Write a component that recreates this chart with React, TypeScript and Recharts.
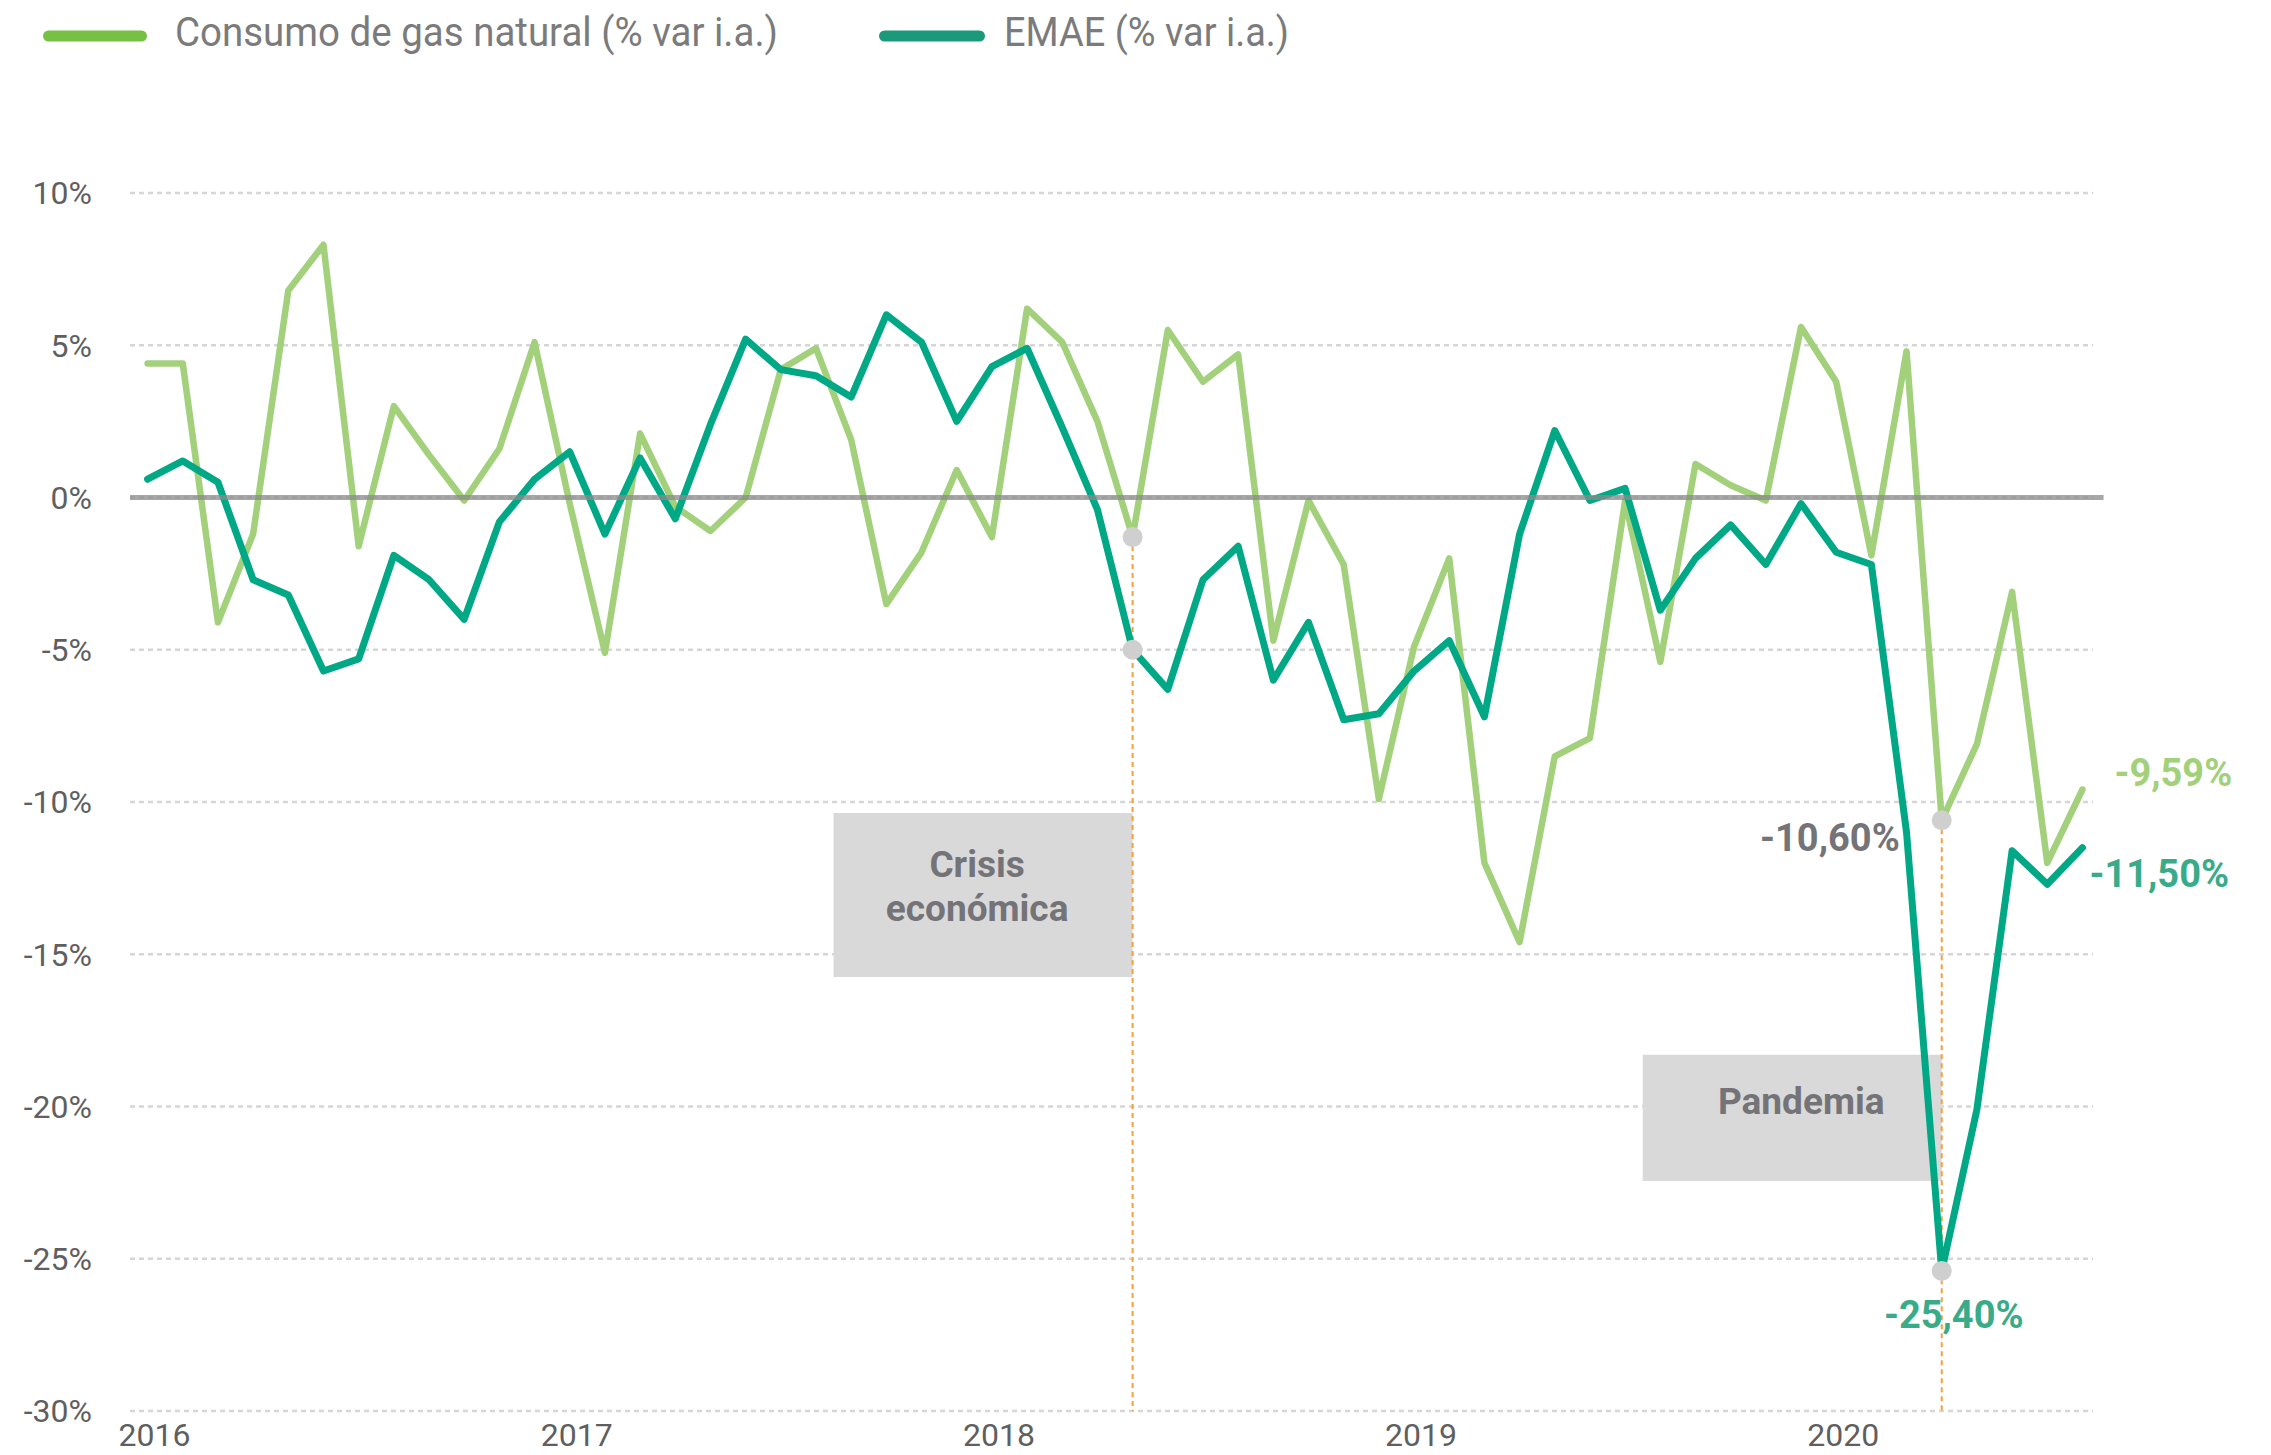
import {
  LineChart,
  Line,
  XAxis,
  YAxis,
  CartesianGrid,
  ReferenceLine,
  ReferenceDot,
  ReferenceArea,
  Legend,
} from 'recharts';

const FONT = 'Roboto, "Noto Sans", sans-serif';

// months Jan 2016 - Aug 2020
const months = [
  'ene-16', 'feb-16', 'mar-16', 'abr-16', 'may-16', 'jun-16', 'jul-16', 'ago-16', 'sep-16', 'oct-16', 'nov-16', 'dic-16',
  'ene-17', 'feb-17', 'mar-17', 'abr-17', 'may-17', 'jun-17', 'jul-17', 'ago-17', 'sep-17', 'oct-17', 'nov-17', 'dic-17',
  'ene-18', 'feb-18', 'mar-18', 'abr-18', 'may-18', 'jun-18', 'jul-18', 'ago-18', 'sep-18', 'oct-18', 'nov-18', 'dic-18',
  'ene-19', 'feb-19', 'mar-19', 'abr-19', 'may-19', 'jun-19', 'jul-19', 'ago-19', 'sep-19', 'oct-19', 'nov-19', 'dic-19',
  'ene-20', 'feb-20', 'mar-20', 'abr-20', 'may-20', 'jun-20', 'jul-20', 'ago-20',
];

const gasConsumption = [
  4.4, 4.4, -4.1, -1.2, 6.8, 8.3, -1.6, 3.0, 1.4, -0.1, 1.6, 5.1,
  -0.2, -5.1, 2.1, -0.3, -1.1, 0.0, 4.2, 4.9, 1.9, -3.5, -1.8, 0.9,
  -1.3, 6.2, 5.1, 2.5, -1.3, 5.5, 3.8, 4.7, -4.7, -0.1, -2.2, -9.9,
  -4.9, -2.0, -12.0, -14.6, -8.5, -7.9, -0.1, -5.4, 1.1, 0.4, -0.1, 5.6,
  3.8, -1.9, 4.8, -10.6, -8.1, -3.1, -12.0, -9.59,
];

const emae = [
  0.6, 1.2, 0.5, -2.7, -3.2, -5.7, -5.3, -1.9, -2.7, -4.0, -0.8, 0.6,
  1.5, -1.2, 1.3, -0.7, 2.4, 5.2, 4.2, 4.0, 3.3, 6.0, 5.1, 2.5,
  4.3, 4.9, 2.3, -0.4, -5.0, -6.3, -2.7, -1.6, -6.0, -4.1, -7.3, -7.1,
  -5.7, -4.7, -7.2, -1.2, 2.2, -0.1, 0.3, -3.7, -2.0, -0.9, -2.2, -0.2,
  -1.8, -2.2, -11.0, -25.4, -20.1, -11.6, -12.7, -11.5,
];

const yearLabels = ['2016', '2017', '2018', '2019', '2020'];
const yearTicks = [0, 12, 24, 36, 48];
const yTicks = [10, 5, 0, -5, -10, -15, -20, -25, -30];

const CRISIS_IDX = 28;
const PANDEMIC_IDX = 51;

const data = months.map((month, i) => ({
  idx: i,
  month,
  gas: gasConsumption[i],
  emae: emae[i],
}));

const GAS_COLOR = '#a2d07b';
const EMAE_COLOR = '#00a886';
const LABEL_TEAL = '#3aab89';
const LABEL_GREY = '#737378';

type PointLabel = { text: string; color: string; dx: number; dy: number; anchor: 'start' | 'middle' | 'end' };

const gasLabels: Record<number, PointLabel> = {
  51: { text: '-10,60%', color: LABEL_GREY, dx: -42, dy: 31, anchor: 'end' },
  55: { text: '-9,59%', color: GAS_COLOR, dx: 32, dy: -4, anchor: 'start' },
};

const emaeLabels: Record<number, PointLabel> = {
  51: { text: '-25,40%', color: LABEL_TEAL, dx: 12, dy: 57, anchor: 'middle' },
  55: { text: '-11,50%', color: LABEL_TEAL, dx: 7, dy: 39, anchor: 'start' },
};

const renderPointLabel = (labels: Record<number, PointLabel>) => (props: any) => {
  const spec = labels[props.index];
  if (!spec) return <g key={`l-${props.index}`} />;
  return (
    <text
      key={`l-${props.index}`}
      x={props.x + spec.dx}
      y={props.y + spec.dy}
      fill={spec.color}
      textAnchor={spec.anchor}
      fontSize={38}
      fontWeight={700}
      fontFamily={FONT}
    >
      {spec.text}
    </text>
  );
};

const boxLabel = (lines: string[], top: number, dx: number) => (props: any) => {
  const { x, y, width } = props.viewBox;
  const cx = x + width / 2 + dx;
  return (
    <text textAnchor="middle" fill={LABEL_GREY} fontSize={37} fontWeight={700} fontFamily={FONT}>
      {lines.map((line, i) => (
        <tspan key={line} x={cx} y={y + top + i * 44}>
          {line}
        </tspan>
      ))}
    </text>
  );
};

function LegendContent() {
  return (
    <svg width={1400} height={70} style={{ display: 'block' }}>
      <line x1={48.5} y1={36} x2={141.5} y2={36} stroke="#76c043" strokeWidth={11} strokeLinecap="round" />
      <text x={175} y={46} fontSize={40} fill="#7b7b7b" fontFamily={FONT} textLength={603} lengthAdjust="spacingAndGlyphs">
        Consumo de gas natural (% var i.a.)
      </text>
      <line x1={884.5} y1={36} x2={979.5} y2={36} stroke="#1a9a7a" strokeWidth={11} strokeLinecap="round" />
      <text x={1004} y={46} fontSize={40} fill="#7b7b7b" fontFamily={FONT} textLength={285} lengthAdjust="spacingAndGlyphs">
        EMAE (% var i.a.)
      </text>
    </svg>
  );
}

const YearTick = (props: any) => {
  const { x, y, payload } = props;
  const i = yearTicks.indexOf(payload.value);
  return (
    <text x={x + 7} y={y} dy="0.71em" textAnchor="middle" fill="#5f5f5f" fontSize={32} fontFamily={FONT}>
      {yearLabels[i]}
    </text>
  );
};

export default function App() {
  return (
    <div style={{ position: 'absolute', left: 0, top: 0, width: 2271, height: 1455, background: '#fff' }}>
      <LineChart width={2271} height={1455} data={data} margin={{ top: 193, right: 178, left: 0, bottom: 0 }}>
        <Legend
          layout="horizontal"
          verticalAlign="middle"
          align="center"
          wrapperStyle={{ position: 'absolute', top: 0, left: 0, width: 1400, height: 70 }}
          content={() => <LegendContent />}
        />
        <CartesianGrid vertical={false} stroke="#d6d6d6" strokeDasharray="5 4" strokeWidth={2.5} />
        <XAxis
          type="number"
          dataKey="idx"
          domain={[-0.5, 55.3]}
          ticks={yearTicks}
          interval={0}
          allowDataOverflow
          axisLine={false}
          tickLine={false}
          tickSize={6}
          tickMargin={6}
          height={44}
          tick={<YearTick />}
        />
        <YAxis
          domain={[-30, 10]}
          ticks={yTicks}
          interval={0}
          width={130}
          axisLine={false}
          tickLine={false}
          tickSize={8}
          tickMargin={30}
          tickFormatter={(v: number) => `${v}%`}
          tick={{ fill: '#5f5f5f', fontSize: 32, fontFamily: FONT }}
        />
        <ReferenceArea
          x1={19.5}
          x2={CRISIS_IDX}
          y1={-10.36}
          y2={-15.75}
          fill="#d9d9d9"
          fillOpacity={1}
          stroke="none"
          ifOverflow="visible"
          label={boxLabel(['Crisis', 'económica'], 64, -6)}
        />
        <ReferenceArea
          x1={42.5}
          x2={PANDEMIC_IDX}
          y1={-18.3}
          y2={-22.45}
          fill="#d9d9d9"
          fillOpacity={1}
          stroke="none"
          ifOverflow="visible"
          label={boxLabel(['Pandemia'], 59, 9)}
        />
        <ReferenceLine
          segment={[
            { x: CRISIS_IDX, y: gasConsumption[CRISIS_IDX] },
            { x: CRISIS_IDX, y: -30 },
          ]}
          stroke="#f5a03c"
          strokeWidth={2}
          strokeDasharray="5 4"
          ifOverflow="visible"
        />
        <ReferenceLine
          segment={[
            { x: PANDEMIC_IDX, y: gasConsumption[PANDEMIC_IDX] },
            { x: PANDEMIC_IDX, y: -30 },
          ]}
          stroke="#f5a03c"
          strokeWidth={2}
          strokeDasharray="5 4"
          ifOverflow="visible"
        />
        <Line
          type="linear"
          dataKey="gas"
          stroke={GAS_COLOR}
          strokeWidth={6.5}
          strokeLinecap="round"
          strokeLinejoin="round"
          dot={false}
          activeDot={false}
          isAnimationActive={false}
          label={renderPointLabel(gasLabels)}
        />
        <Line
          type="linear"
          dataKey="emae"
          stroke={EMAE_COLOR}
          strokeWidth={7}
          strokeLinecap="round"
          strokeLinejoin="round"
          dot={false}
          activeDot={false}
          isAnimationActive={false}
          label={renderPointLabel(emaeLabels)}
        />
        <ReferenceLine
          segment={[
            { x: -0.5, y: 0 },
            { x: 55.6, y: 0 },
          ]}
          stroke="#8a8a8a"
          strokeOpacity={0.75}
          strokeWidth={5}
          ifOverflow="visible"
        />
        <ReferenceDot x={CRISIS_IDX} y={gasConsumption[CRISIS_IDX]} r={10} fill="#cfcfcf" stroke="none" />
        <ReferenceDot x={CRISIS_IDX} y={emae[CRISIS_IDX]} r={10} fill="#cfcfcf" stroke="none" />
        <ReferenceDot x={PANDEMIC_IDX} y={gasConsumption[PANDEMIC_IDX]} r={10} fill="#cfcfcf" stroke="none" />
        <ReferenceDot x={PANDEMIC_IDX} y={emae[PANDEMIC_IDX]} r={10} fill="#cfcfcf" stroke="none" />
      </LineChart>
    </div>
  );
}
